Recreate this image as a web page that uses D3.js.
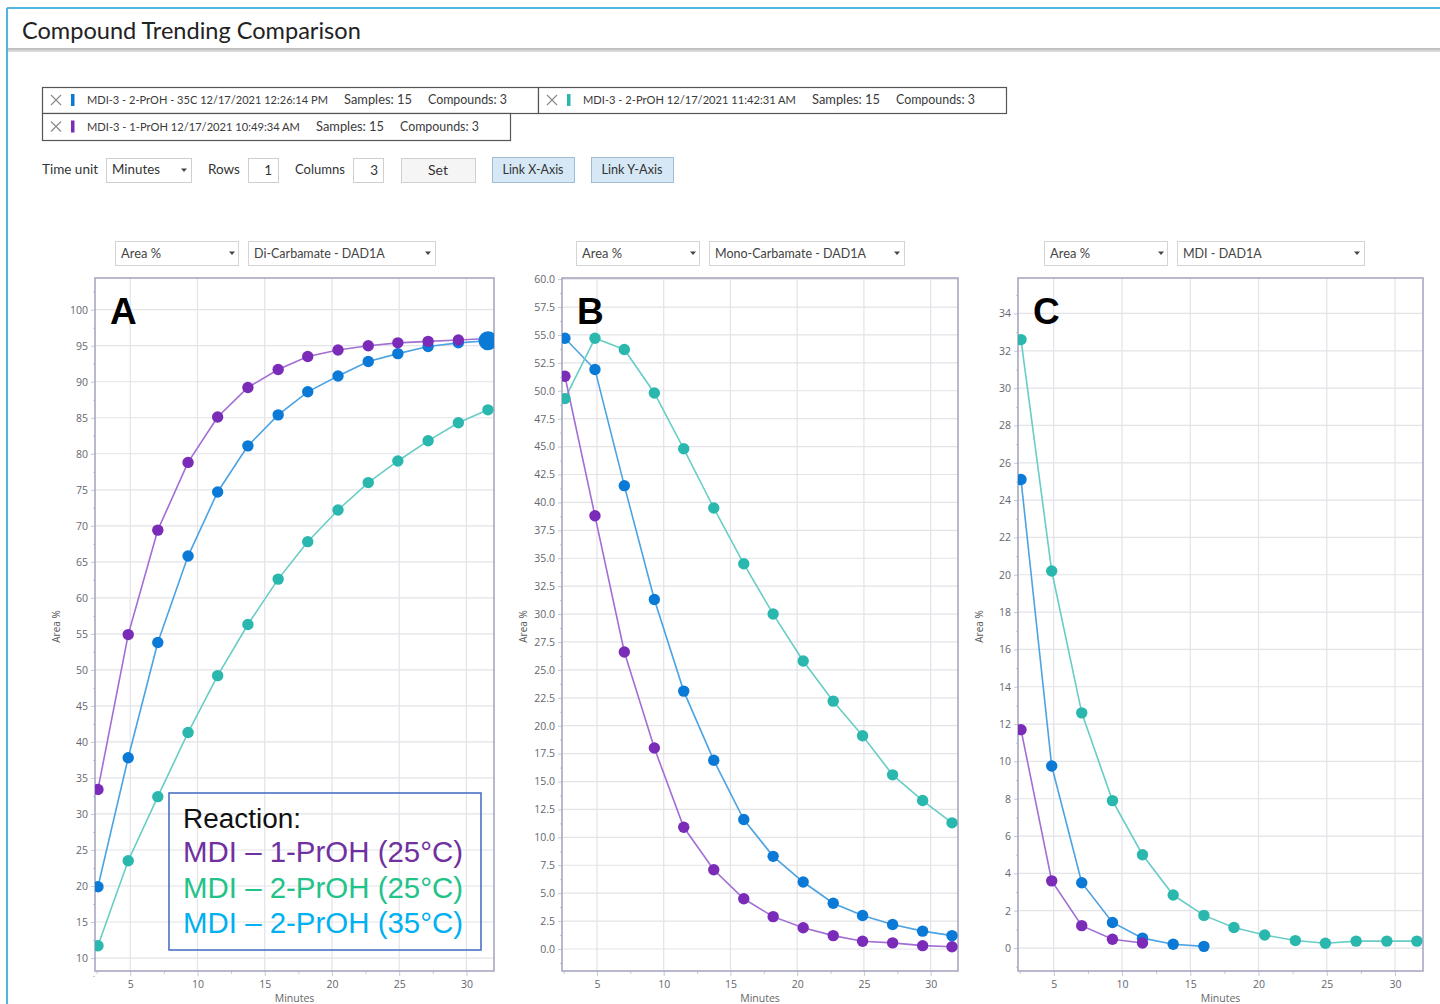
<!DOCTYPE html>
<html><head><meta charset="utf-8">
<script src="https://cdn.jsdelivr.net/npm/d3@7"></script>
<style>
body{margin:0;background:#fff;overflow:hidden;}
svg{display:block;}
</style></head><body>
<svg id="page" width="1440" height="1004"></svg>
<script>
// Sample times (minutes) shared by every run
const times = [2.6, 4.85, 7.05, 9.3, 11.5, 13.75, 16.0, 18.2, 20.45, 22.7, 24.9, 27.15, 29.4, 31.6];

// Di-Carbamate - DAD1A, Area %
const diCarb35C   = [19.9, 37.8, 53.8, 65.8, 74.7, 81.1, 85.4, 88.6, 90.8, 92.8, 93.9, 94.9, 95.4, 95.7];
const diCarb2PrOH = [11.7, 23.5, 32.4, 41.3, 49.2, 56.3, 62.6, 67.8, 72.2, 76.0, 79.0, 81.8, 84.3, 86.1];
const diCarb1PrOH = [33.4, 54.9, 69.4, 78.8, 85.1, 89.2, 91.7, 93.5, 94.4, 95.0, 95.4, 95.6, 95.8, 96.0];

// Mono-Carbamate - DAD1A, Area %
const monoCarb35C   = [54.7, 51.9, 41.5, 31.3, 23.1, 16.9, 11.6, 8.3, 6.0, 4.1, 3.0, 2.2, 1.6, 1.2];
const monoCarb2PrOH = [49.3, 54.7, 53.7, 49.8, 44.8, 39.5, 34.5, 30.0, 25.8, 22.2, 19.1, 15.6, 13.3, 11.3];
const monoCarb1PrOH = [51.3, 38.8, 26.6, 18.0, 10.9, 7.1, 4.5, 2.9, 1.9, 1.2, 0.7, 0.55, 0.3, 0.2];

// MDI - DAD1A, Area %
const mdi35C   = [25.1, 9.75, 3.5, 1.37, 0.53, 0.2, 0.09];
const mdi2PrOH = [32.6, 20.2, 12.6, 7.9, 5.0, 2.84, 1.75, 1.1, 0.7, 0.4, 0.26, 0.37, 0.37, 0.37];
const mdi1PrOH = [11.7, 3.6, 1.2, 0.47, 0.27];

// Runs loaded into the comparison
const runNames = ["MDI-3 - 2-PrOH - 35C", "MDI-3 - 2-PrOH", "MDI-3 - 1-PrOH"];
const runStamps = ["12/17/2021 12:26:14 PM", "12/17/2021 11:42:31 AM", "12/17/2021 10:49:34 AM"];
const runSamples = [15, 15, 15];
const runCompounds = [3, 3, 3];
const markerColors = ["#0a7ad6", "#2ab7ae", "#7a2cb8"];
const lineColors = ["#4ba3e3", "#68cdc6", "#a26ed4"];

const compounds = ["Di-Carbamate - DAD1A", "Mono-Carbamate - DAD1A", "MDI - DAD1A"];
const panelLetters = ["A", "B", "C"];

// Reaction legend
const legendTitle = "Reaction:";
const legendLines = ["MDI \u2013 1-PrOH (25\u00b0C)", "MDI \u2013 2-PrOH (25\u00b0C)", "MDI \u2013 2-PrOH (35\u00b0C)"];
const legendColors = ["#7030a0", "#22c389", "#00b0f0"];

const UI = "Lato, 'Open Sans', sans-serif";
const svg = d3.select("#page");

// shrink/grow a text so it spans the given width
function fit(sel, w) {
  const cur = parseFloat(sel.attr("font-size"));
  const len = sel.node().getComputedTextLength();
  if (len > 0) sel.attr("font-size", (cur * w / len).toFixed(2));
  return sel;
}

// ---------- window chrome ----------
svg.append("line").attr("x1", 7).attr("x2", 1440).attr("y1", 8).attr("y2", 8)
  .attr("stroke", "#55b3e2").attr("stroke-width", 2);
svg.append("line").attr("x1", 7).attr("x2", 7).attr("y1", 8).attr("y2", 1004)
  .attr("stroke", "#55b3e2").attr("stroke-width", 2);
fit(svg.append("text").attr("x", 22).attr("y", 39).attr("font-family", UI)
  .attr("font-size", 20).attr("fill", "#222").text("Compound Trending Comparison"), 339);
const hdrGrad = svg.append("defs").append("linearGradient").attr("id", "hdr")
  .attr("x1", 0).attr("x2", 0).attr("y1", 0).attr("y2", 1);
hdrGrad.append("stop").attr("offset", 0).attr("stop-color", "#b9b9b9");
hdrGrad.append("stop").attr("offset", 1).attr("stop-color", "#e2e2e2");
svg.append("rect").attr("x", 8).attr("y", 48).attr("width", 1432).attr("height", 4).attr("fill", "url(#hdr)");

// ---------- run tags ----------
const tagBoxes = [
  {x: 42, y: 87, w: 496, h: 26, text: 241, s: 344, c: 428},
  {x: 538, y: 87, w: 468, h: 26, text: 213, s: 812, c: 896},
  {x: 42, y: 113, w: 468, h: 27, text: 213, s: 316, c: 400}
];
tagBoxes.forEach((b, i) => {
  const g = svg.append("g");
  g.append("rect").attr("x", b.x + 0.5).attr("y", b.y + 0.5).attr("width", b.w).attr("height", b.h)
    .attr("fill", "#fff").attr("stroke", "#555").attr("stroke-width", 1.2);
  const cx = b.x + 14, cy = b.y + b.h / 2;
  g.append("path").attr("d", `M${cx - 5},${cy - 5}L${cx + 5},${cy + 5}M${cx + 5},${cy - 5}L${cx - 5},${cy + 5}`)
    .attr("stroke", "#888").attr("stroke-width", 1.1);
  g.append("rect").attr("x", b.x + 29).attr("y", cy - 6).attr("width", 3.5).attr("height", 12)
    .attr("fill", markerColors[i]);
  const ty = cy + 4;
  fit(g.append("text").attr("x", b.x + 45).attr("y", ty).attr("font-family", UI).attr("font-size", 11)
    .attr("fill", "#3a3a3a").text(runNames[i] + " " + runStamps[i]), b.text);
  fit(g.append("text").attr("x", b.s).attr("y", ty).attr("font-family", UI).attr("font-size", 11)
    .attr("fill", "#3a3a3a").text("Samples: " + runSamples[i]), 68);
  fit(g.append("text").attr("x", b.c).attr("y", ty).attr("font-family", UI).attr("font-size", 11)
    .attr("fill", "#3a3a3a").text("Compounds: " + runCompounds[i]), 79);
});

// ---------- control row ----------
function label(x, y, t, w) {
  return fit(svg.append("text").attr("x", x).attr("y", y).attr("font-family", UI).attr("font-size", 12)
    .attr("fill", "#333").text(t), w);
}
function box(x, y, w, h, fill, stroke) {
  svg.append("rect").attr("x", x + 0.5).attr("y", y + 0.5).attr("width", w).attr("height", h)
    .attr("fill", fill).attr("stroke", stroke);
}
function caret(x, y) {
  svg.append("path").attr("d", `M${x - 3},${y - 1.5}L${x + 3},${y - 1.5}L${x},${y + 2}Z`).attr("fill", "#444");
}
label(42, 174, "Time unit", 56);
box(106, 158, 85, 24, "#fff", "#cfcfcf");
label(112, 174, "Minutes", 48); caret(184, 170);
label(208, 174, "Rows", 32);
box(248, 158, 30, 24, "#fff", "#cfcfcf");
svg.append("text").attr("x", 272).attr("y", 175).attr("text-anchor", "end").attr("font-family", UI)
  .attr("font-size", 13.5).attr("fill", "#333").text("1");
label(295, 174, "Columns", 50);
box(353, 158, 30, 24, "#fff", "#cfcfcf");
svg.append("text").attr("x", 378).attr("y", 175).attr("text-anchor", "end").attr("font-family", UI)
  .attr("font-size", 13.5).attr("fill", "#333").text("3");
box(401, 158, 74, 24, "#f5f5f5", "#cfcfcf");
fit(svg.append("text").attr("x", 428).attr("y", 175).attr("font-family", UI)
  .attr("font-size", 13).attr("fill", "#333").text("Set"), 20);
[["Link X-Axis", 492], ["Link Y-Axis", 591]].forEach(([t, x]) => {
  box(x, 157, 82, 25, "#d6e8f5", "#9fbcd2");
  const tx = svg.append("text").attr("x", x + 41).attr("y", 174).attr("text-anchor", "middle")
    .attr("font-family", UI).attr("font-size", 11.5).attr("fill", "#333").text(t);
  fit(tx, 61);
});

// ---------- panels ----------
const panels = [
  {left: 95, right: 494, yDomain: [8.2, 104.4], yTicks: d3.range(10, 100.1, 5), yMinor: d3.range(7.5, 104, 2.5),
   fmt: d3.format("d"), runs: [diCarb35C, diCarb2PrOH, diCarb1PrOH], ddx: 115, ddw2: 187},
  {left: 562, right: 958, yDomain: [-1.97, 60.1], yTicks: d3.range(0, 60.01, 2.5), yMinor: d3.range(-1.25, 60, 1.25),
   fmt: d3.format(".1f"), runs: [monoCarb35C, monoCarb2PrOH, monoCarb1PrOH], ddx: 576, ddw2: 195},
  {left: 1018, right: 1423, yDomain: [-1.23, 35.9], yTicks: d3.range(0, 34.01, 2), yMinor: d3.range(-1, 35.5, 1),
   fmt: d3.format("d"), runs: [mdi35C, mdi2PrOH, mdi1PrOH], ddx: 1044, ddw2: 187}
];
const plotTop = 278, plotBottom = 971;
const xDomain = [2.38, 32.05];
const xTicks = d3.range(5, 30.1, 5);
const xMinor = d3.range(2.5, 32, 2.5);

panels.forEach((p, pi) => {
  const x = d3.scaleLinear().domain(xDomain).range([p.left, p.right]);
  const y = d3.scaleLinear().domain(p.yDomain).range([plotBottom, plotTop]);

  // value / compound pickers
  box(p.ddx, 241, 123, 24, "#fff", "#d4d4d4");
  caret(p.ddx + 117, 253);
  const d2 = p.ddx + 133;
  box(d2, 241, p.ddw2, 24, "#fff", "#d4d4d4");
  caret(d2 + p.ddw2 - 7, 253);

  const g = svg.append("g");
  fit(g.append("text").attr("x", p.ddx + 6).attr("y", 258).attr("font-family", UI).attr("font-size", 12)
    .attr("fill", "#444").text("Area %"), 40);
  g.append("text").attr("x", d2 + 6).attr("y", 258).attr("font-family", UI).attr("font-size", 12.5)
    .attr("fill", "#444").text(compounds[pi]);

  // grid
  const cid = "clip" + pi;
  svg.append("clipPath").attr("id", cid).append("rect")
    .attr("x", p.left).attr("y", plotTop).attr("width", p.right - p.left).attr("height", plotBottom - plotTop);
  g.append("g").selectAll("line").data(xTicks).join("line")
    .attr("x1", d => x(d)).attr("x2", d => x(d)).attr("y1", plotTop).attr("y2", plotBottom)
    .attr("stroke", "#e3e3e8").attr("stroke-width", 1.2);
  g.append("g").selectAll("line").data(p.yTicks).join("line")
    .attr("x1", p.left).attr("x2", p.right).attr("y1", d => y(d)).attr("y2", d => y(d))
    .attr("stroke", "#e3e3e8").attr("stroke-width", 1.2);

  // axes
  g.append("g").attr("transform", `translate(0,${plotBottom})`)
    .call(d3.axisBottom(x).tickValues(xTicks).tickSize(5).tickPadding(5).tickFormat(d3.format("d")));
  g.append("g").attr("transform", `translate(0,${plotBottom})`)
    .call(d3.axisBottom(x).tickValues(xMinor.filter(v => v % 5 !== 0)).tickSize(3).tickFormat(""))
    .call(a => a.select(".domain").remove());
  g.append("g").attr("transform", `translate(${p.left},0)`)
    .call(d3.axisLeft(y).tickValues(p.yTicks).tickSize(4).tickPadding(3).tickFormat(p.fmt));
  g.append("g").attr("transform", `translate(${p.left},0)`)
    .call(d3.axisLeft(y).tickValues(p.yMinor.filter(v => !p.yTicks.includes(v))).tickSize(2).tickFormat(""))
    .call(a => a.select(".domain").remove());
  g.selectAll(".tick line").attr("stroke", "#c8c8d4");
  g.selectAll(".domain").remove();
  g.selectAll(".tick text").attr("font-family", "'Open Sans', sans-serif").attr("font-size", 10.5).attr("fill", "#66666e");

  // frame
  g.append("rect").attr("x", p.left).attr("y", plotTop).attr("width", p.right - p.left).attr("height", plotBottom - plotTop)
    .attr("fill", "none").attr("stroke", "#a2a2bf").attr("stroke-width", 1.5);

  // axis titles
  g.append("text").attr("transform", `translate(${p.left - 35},${(plotTop + plotBottom) / 2 + 2}) rotate(-90)`)
    .attr("text-anchor", "middle").attr("font-family", "'Open Sans', sans-serif").attr("font-size", 10)
    .attr("fill", "#555").text("Area %");
  g.append("text").attr("x", (p.left + p.right) / 2).attr("y", 1002).attr("text-anchor", "middle")
    .attr("font-family", "'Open Sans', sans-serif").attr("font-size", 10.5).attr("fill", "#666").text("Minutes");

  // runs
  const plot = g.append("g").attr("clip-path", `url(#${cid})`);
  const line = d3.line().x((d, i) => x(times[i])).y(d => y(d));
  p.runs.forEach((vals, ri) => {
    plot.append("path").datum(vals).attr("d", line).attr("fill", "none")
      .attr("stroke", lineColors[ri]).attr("stroke-width", 1.6);
  });
  p.runs.forEach((vals, ri) => {
    plot.append("g").selectAll("circle").data(vals).join("circle")
      .attr("cx", (d, i) => x(times[i])).attr("cy", d => y(d)).attr("r", 5.7)
      .attr("fill", markerColors[ri]);
  });
  // highlighted last point of the first run
  if (pi === 0) {
    const last = p.runs[0].length - 1;
    plot.append("circle").attr("cx", x(times[last])).attr("cy", y(p.runs[0][last])).attr("r", 9.5)
      .attr("fill", markerColors[0]);
  }

  // panel letter
  g.append("text").attr("x", p.left + 15).attr("y", 324).attr("font-family", "'Liberation Sans', Arial, sans-serif")
    .attr("font-weight", "bold").attr("font-size", 37).attr("fill", "#000").text(panelLetters[pi]);

  // reaction legend in the first panel
  if (pi === 0) {
    g.append("rect").attr("x", 169).attr("y", 793).attr("width", 312).attr("height", 157)
      .attr("fill", "none").attr("stroke", "#4a72c4").attr("stroke-width", 1.6);
    fit(g.append("text").attr("x", 183).attr("y", 828).attr("font-family", "'Liberation Sans', Arial, sans-serif")
      .attr("font-size", 29).attr("fill", "#111").text(legendTitle), 118);
    legendLines.forEach((t, i) => {
      fit(g.append("text").attr("x", 183).attr("y", 862 + i * 35.5)
        .attr("font-family", "'Liberation Sans', Arial, sans-serif").attr("font-size", 29)
        .attr("fill", legendColors[i]).text(t), 280);
    });
  }
});
</script>
</body></html>
